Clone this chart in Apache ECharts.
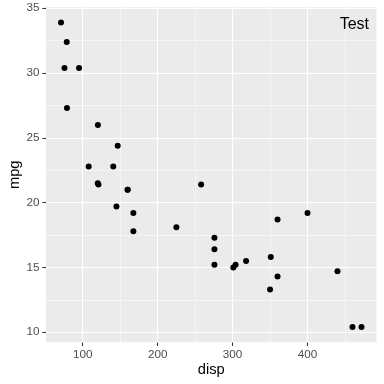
<!DOCTYPE html>
<html>
<head>
<meta charset="utf-8">
<script src="https://cdn.jsdelivr.net/npm/echarts@6/dist/echarts.min.js"></script>
<style>html,body{margin:0;padding:0;background:#fff;}#c{width:384px;height:384px;}</style>
</head>
<body>
<div id="c"></div>
<script>
const disp = [160,160,108,258,360,225,360,146.7,140.8,167.6,167.6,275.8,275.8,275.8,472,460,440,78.7,75.7,71.1,120.1,318,304,350,400,79,120.3,95.1,351,145,301,121];
const mpg = [21.0,21.0,22.8,21.4,18.7,18.1,14.3,24.4,22.8,19.2,17.8,16.4,17.3,15.2,10.4,10.4,14.7,32.4,30.4,33.9,21.5,15.5,15.2,13.3,19.2,27.3,26.0,30.4,15.8,19.7,15.0,21.4];
const xTicks = [100,200,300,400];
const xMinor = [150,250,350,450];
const yTicks = [10,15,20,25,30,35];
const yMinor = [12.5,17.5,22.5,27.5,32.5];
const xLimits = [51.045, 492.045];
const yLimits = [9.225, 35.075];
const annotation = 'Test';

const points = disp.map((d,i)=>[d,mpg[i]]);
const font = 'Liberation Sans, Arial, sans-serif';
const chart = echarts.init(document.getElementById('c'), null, {renderer:'canvas'});
function lines(vals, key, w){ return vals.map(v=>({[key]:v, lineStyle:{color:'#ffffff', width:w, type:'solid'}})); }
chart.setOption({
  animation:false,
  backgroundColor:'#ffffff',
  title:{text:annotation, right:10, top:12, textStyle:{fontFamily:font, fontSize:16, fontWeight:'normal', color:'#000'}},
  grid:{left:46, right:7.5, top:7.3, bottom:41.7, show:true, backgroundColor:'#EBEBEB', borderWidth:0, containLabel:false, outerBoundsMode:'none'},
  xAxis:{type:'value', min:xLimits[0], max:xLimits[1], name:'disp', nameLocation:'middle', nameGap:20, nameMoveOverlap:false,
    nameTextStyle:{fontFamily:font, fontSize:14.7, color:'#000'},
    axisLine:{show:false}, splitLine:{show:false},
    axisTick:{show:true, customValues:xTicks, length:3.7, lineStyle:{color:'#333333', width:1.07}},
    axisLabel:{customValues:xTicks, margin:6, fontFamily:font, fontSize:11.7, color:'#4D4D4D'}},
  yAxis:{type:'value', min:yLimits[0], max:yLimits[1], name:'mpg', nameLocation:'middle', nameGap:24, nameRotate:90, nameMoveOverlap:false,
    nameTextStyle:{fontFamily:font, fontSize:14.7, color:'#000'},
    axisLine:{show:false}, splitLine:{show:false},
    axisTick:{show:true, customValues:yTicks, length:3.7, lineStyle:{color:'#333333', width:1.07}},
    axisLabel:{customValues:yTicks, margin:6.5, fontFamily:font, fontSize:11.7, color:'#4D4D4D'}},
  series:[
    {type:'scatter', data:[], silent:true, z:1,
      markLine:{silent:true, symbol:'none', label:{show:false}, animation:false,
        data:[].concat(lines(xMinor,'xAxis',0.53), lines(yMinor,'yAxis',0.53), lines(xTicks,'xAxis',1.07), lines(yTicks,'yAxis',1.07))}},
    {type:'scatter', data:points, symbol:'circle', symbolSize:6, z:5,
      itemStyle:{color:'#000000', opacity:1}}
  ]
});
</script>
</body>
</html>
